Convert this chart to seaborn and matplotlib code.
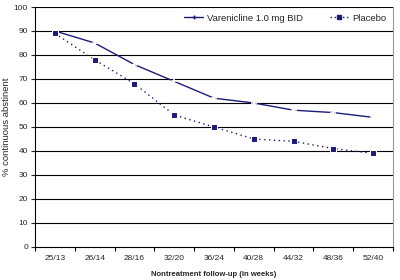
import numpy as np
import pandas as pd
import matplotlib.pyplot as plt
import seaborn as sns
from matplotlib.lines import Line2D

weeks = ['25/13', '26/14', '28/16', '32/20', '36/24', '40/28', '44/32', '48/36', '52/40']
varenicline = [90, 85, 76, 69, 62, 60, 57, 56, 54]
placebo = [89, 78, 68, 55, 50, 45, 44, 41, 39]
series_names = ['Varenicline 1.0 mg BID', 'Placebo']

sns.set_style("white")
plt.rcParams['font.family'] = ['Liberation Sans', 'DejaVu Sans']

pos = list(range(len(weeks)))
df_v = pd.DataFrame({'pos': pos, 'value': varenicline})
df_p = pd.DataFrame({'pos': pos, 'value': placebo})

fig = plt.figure(figsize=(4, 2.8), dpi=100)
ax = fig.add_axes([0.0875, 0.118, 0.895, 0.857])

navy = '#1c1c78'
sns.lineplot(data=df_v, x='pos', y='value', color=navy, marker='+',
             markersize=4, markeredgewidth=1.1, linewidth=1, ax=ax)
sns.lineplot(data=df_p, x='pos', y='value', color=navy, marker='s',
             markersize=4, linewidth=1, linestyle=(0, (1, 2.5)), ax=ax)

# grid
for v in range(10, 101, 10):
    ax.axhline(v, color='black', linewidth=0.8, zorder=0)

ax.set_ylim(0, 100)
ax.set_yticks(range(0, 101, 10))
ax.set_xlim(-0.5, len(weeks) - 0.5)
ax.set_xticks(pos)
ax.set_xticklabels(weeks)
ax.set_xticks(np.arange(-0.5, len(weeks), 1), minor=True)
ax.tick_params(axis='x', which='major', length=0, labelsize=6, pad=6)
ax.tick_params(axis='x', which='minor', length=3, width=0.8, color='black', direction='out', bottom=True)
ax.tick_params(axis='y', length=3, width=0.8, labelsize=6, pad=2, direction='out', left=True)

for s in ['left', 'bottom']:
    ax.spines[s].set_color('black')
    ax.spines[s].set_linewidth(0.8)
ax.spines['right'].set_color('#999999')
ax.spines['top'].set_visible(False)

ax.set_xlabel('Nontreatment follow-up (in weeks)', fontsize=5.5, fontweight='bold', labelpad=6)
ax.set_ylabel('% continuous abstinent', fontsize=6.8, labelpad=2)

handles = [Line2D([], [], color=navy, marker='+', markersize=3.5, linewidth=1),
           Line2D([], [], color=navy, marker='s', markersize=2.5, linewidth=1, linestyle=(0, (1, 2)))]
leg = ax.legend(handles, series_names, loc='upper right', ncol=2, fontsize=6.8,
                frameon=True, fancybox=False, edgecolor='white', framealpha=1,
                handlelength=2, handletextpad=0.4, columnspacing=2.8,
                borderaxespad=0.2, borderpad=0.5)

fig.savefig('out.png', dpi=100)
